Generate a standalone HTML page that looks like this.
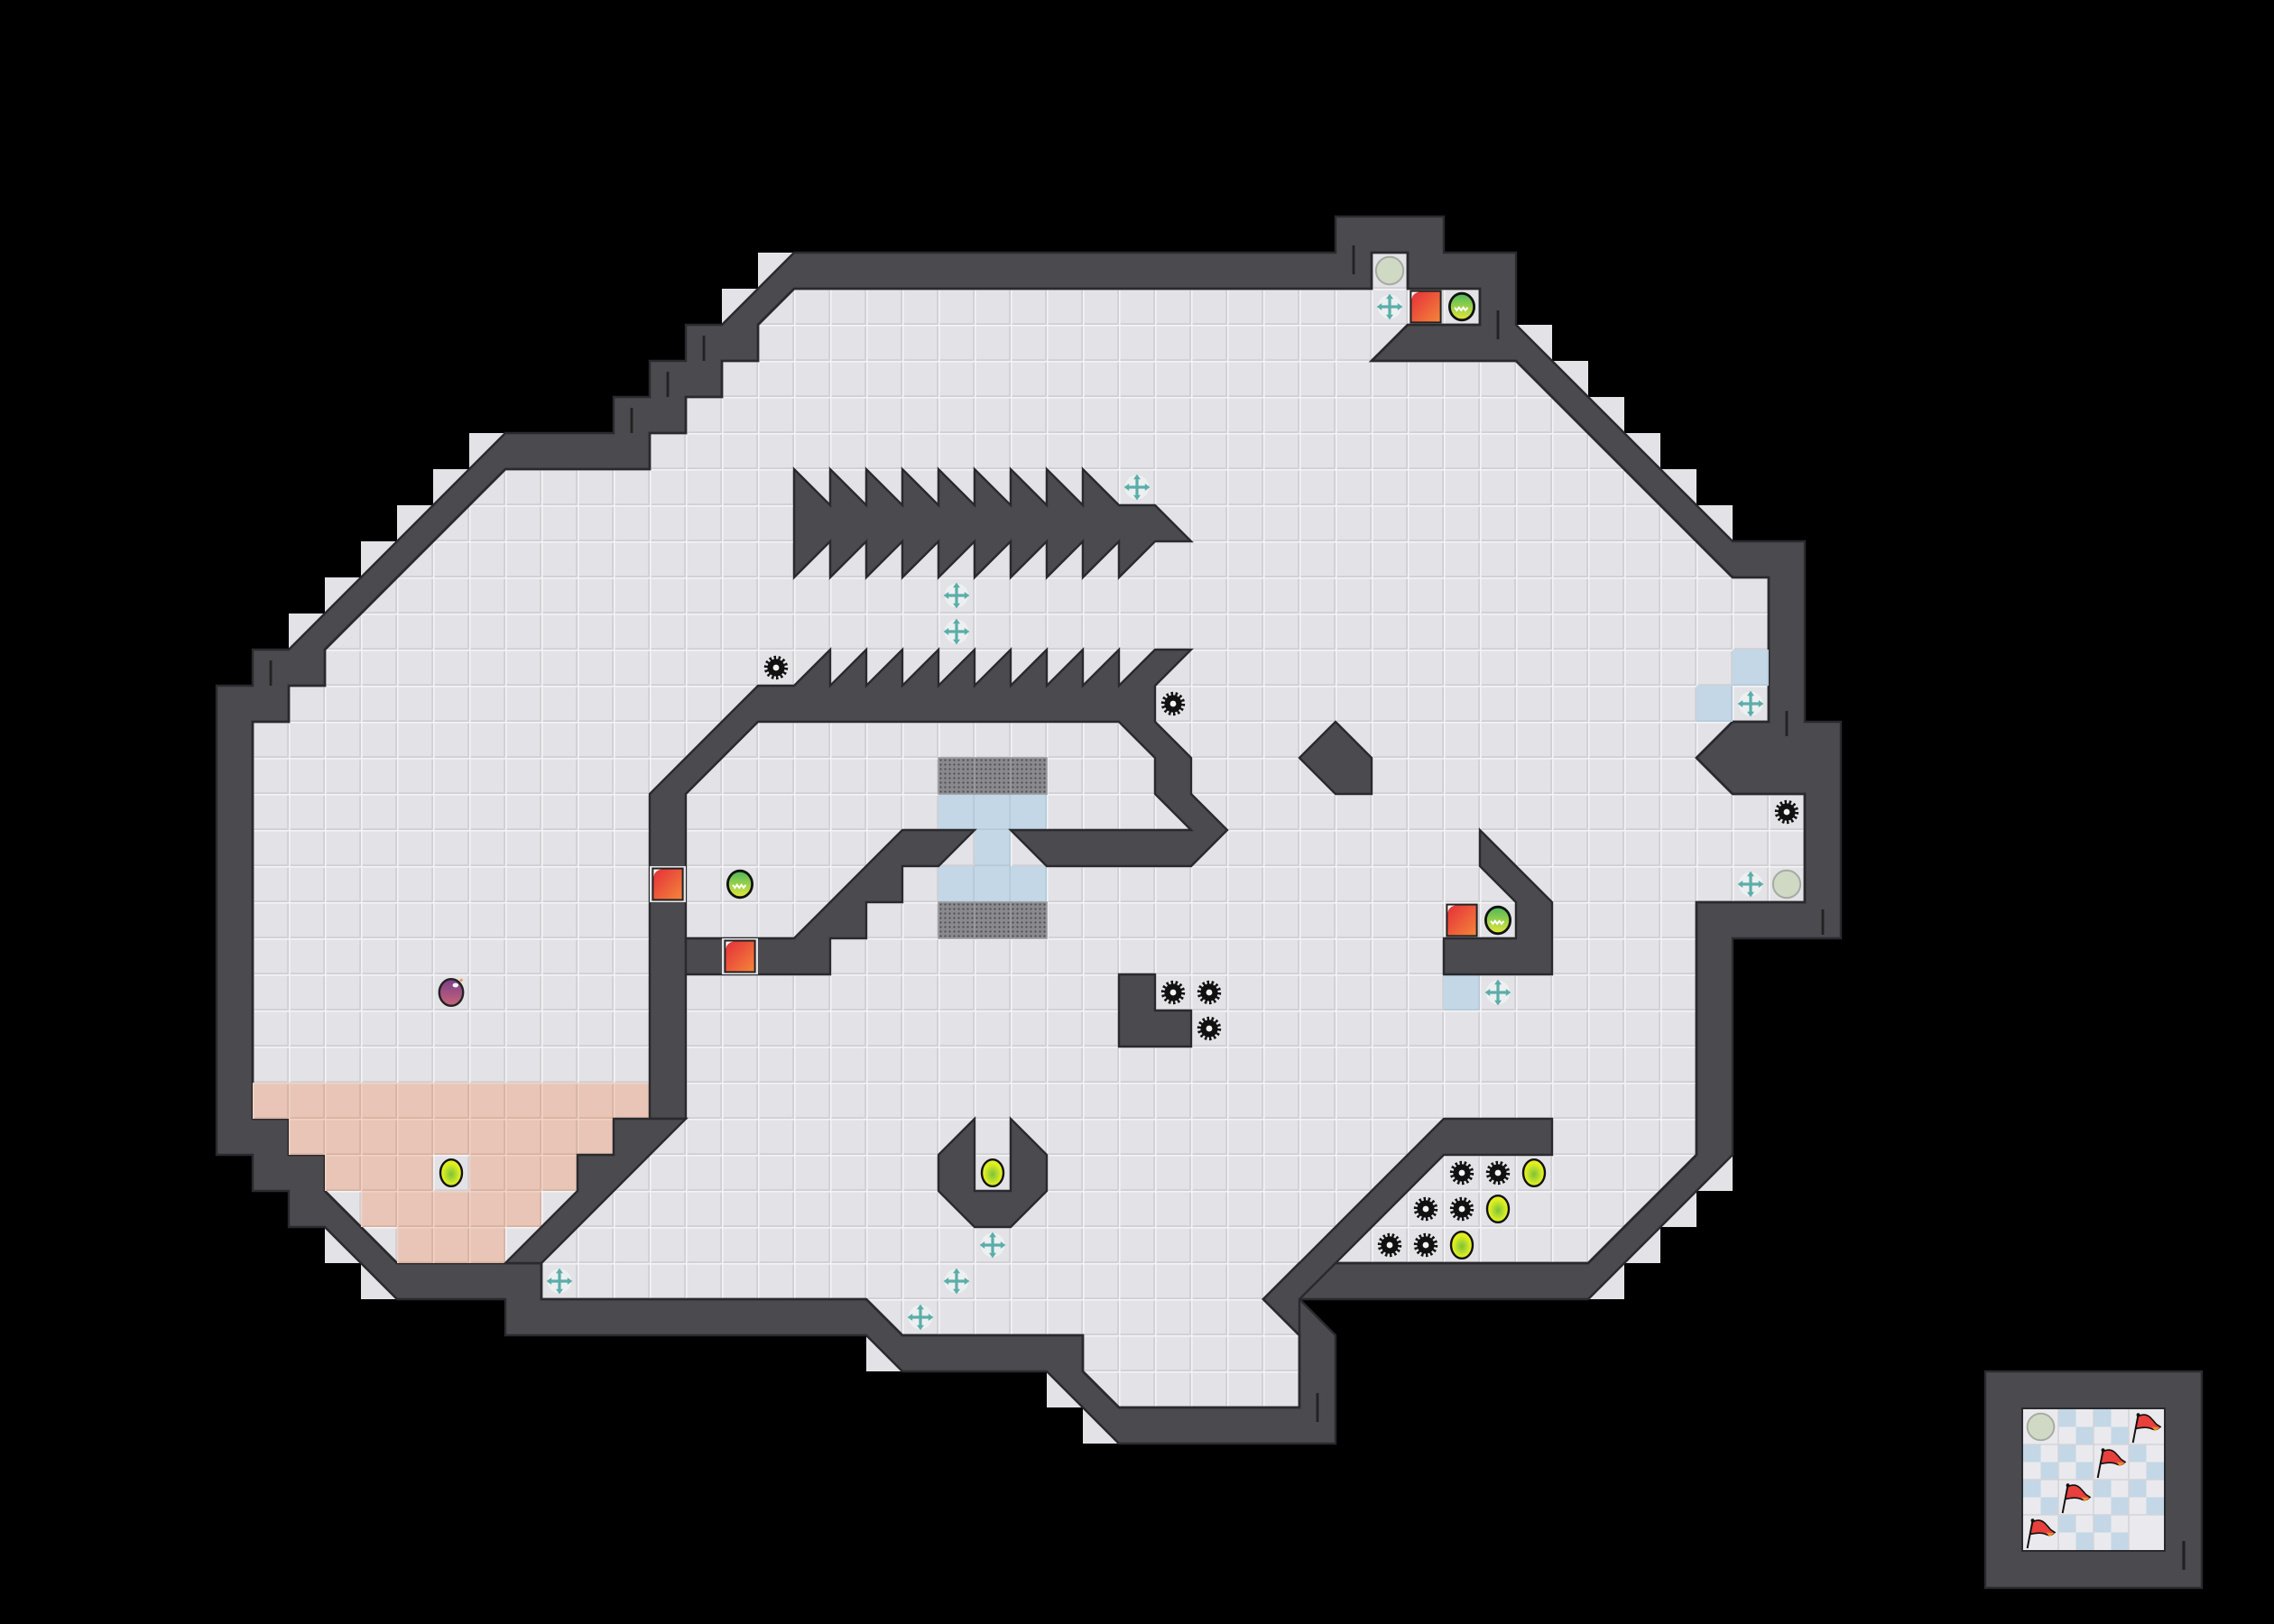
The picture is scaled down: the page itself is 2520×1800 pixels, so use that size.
<!DOCTYPE html>
<html><head><meta charset="utf-8"><style>
html,body{margin:0;padding:0;background:#000;}
svg{display:block;}
</style></head><body>
<svg width="2520" height="1800" viewBox="0 0 63 45" xmlns="http://www.w3.org/2000/svg">
<defs>
<pattern id="fl" patternUnits="userSpaceOnUse" x="0" y="0" width="1" height="1">
<rect width="1" height="1" fill="#e3e3e7"/>
<path d="M0,0.98H1M0.98,0V1" stroke="#cfcfd4" stroke-width="0.05"/>
<path d="M0,0.02H1M0.02,0V1" stroke="#f3f3f5" stroke-width="0.04"/>
</pattern>
<pattern id="pe" patternUnits="userSpaceOnUse" x="0" y="0" width="1" height="1">
<rect width="1" height="1" fill="#e8c5b6"/>
<path d="M0,0.98H1M0.98,0V1" stroke="#d8b2a2" stroke-width="0.05"/>
<path d="M0,0.02H1M0.02,0V1" stroke="#f0d2c4" stroke-width="0.04"/>
</pattern>
<pattern id="bl" patternUnits="userSpaceOnUse" x="0" y="0" width="1" height="1">
<rect width="1" height="1" fill="#c3d7e6"/>
<path d="M0,0.98H1M0.98,0V1" stroke="#b4c9d9" stroke-width="0.04"/>
</pattern>
<pattern id="gr" patternUnits="userSpaceOnUse" x="0" y="0" width="0.125" height="0.125">
<rect width="0.125" height="0.125" fill="#8a8a8e"/>
<circle cx="0.0625" cy="0.0625" r="0.028" fill="#4e4e52"/>
</pattern>
<linearGradient id="rg" x1="0" y1="0" x2="1" y2="1"><stop offset="0" stop-color="#e5303a"/><stop offset="1" stop-color="#f4843a"/></linearGradient>
<linearGradient id="gg" x1="0" y1="0" x2="0" y2="1"><stop offset="0" stop-color="#4cb85a"/><stop offset="1" stop-color="#e4e83a"/></linearGradient>
<radialGradient id="yg" cx="0.5" cy="0.55" r="0.55"><stop offset="0" stop-color="#7cc23a"/><stop offset="0.7" stop-color="#dcee22"/><stop offset="1" stop-color="#eef21e"/></radialGradient>
<linearGradient id="pg" x1="0" y1="0" x2="0" y2="1"><stop offset="0" stop-color="#7a3f8a"/><stop offset="1" stop-color="#c96478"/></linearGradient>
<g id="gear"><circle cx="0.5" cy="0.5" r="0.24" fill="#111"/><circle cx="0.5" cy="0.5" r="0.28" fill="none" stroke="#111" stroke-width="0.1" stroke-dasharray="0.062 0.063"/><circle cx="0.5" cy="0.5" r="0.085" fill="#f4f4f4"/></g>
<g id="cross"><circle cx="0.5" cy="0.5" r="0.33" fill="#edf0f0"/><path d="M0.5,0.26V0.74M0.26,0.5H0.74" stroke="#5cadaa" stroke-width="0.08"/><path d="M0.5,0.14L0.4,0.28H0.6ZM0.5,0.86L0.4,0.72H0.6ZM0.14,0.5L0.28,0.4V0.6ZM0.86,0.5L0.72,0.4V0.6Z" fill="#5cadaa"/></g>
<g id="red"><rect x="0.06" y="0.04" width="0.88" height="0.92" fill="#222"/><rect x="0.11" y="0.09" width="0.78" height="0.82" fill="url(#rg)"/><path d="M0.11,0.09H0.32Q0.13,0.12 0.11,0.3Z" fill="#fff"/></g>
<g id="green"><ellipse cx="0.5" cy="0.5" rx="0.34" ry="0.37" fill="url(#gg)" stroke="#111" stroke-width="0.07"/><path d="M0.3,0.52l0.06,0.08l0.06,-0.08l0.06,0.08l0.06,-0.08l0.06,0.08l0.06,-0.08" fill="none" stroke="#fff" stroke-width="0.05"/></g>
<g id="yel"><ellipse cx="0.5" cy="0.5" rx="0.3" ry="0.37" fill="url(#yg)" stroke="#111" stroke-width="0.06"/></g>
<g id="gray"><circle cx="0.5" cy="0.5" r="0.38" fill="#cfd9c4" stroke="#a6aba2" stroke-width="0.05"/></g>
<g id="flag"><path d="M0.12,0.95L0.27,0.16" stroke="#111" stroke-width="0.05"/><circle cx="0.27" cy="0.16" r="0.05" fill="#111"/><path d="M0.27,0.2Q0.45,0.1 0.6,0.22Q0.7,0.32 0.78,0.42L0.9,0.5Q0.78,0.62 0.66,0.56Q0.5,0.48 0.2,0.55Z" fill="#e8403c" stroke="#111" stroke-width="0.04"/><path d="M0.66,0.5L0.9,0.52L0.74,0.62Z" fill="#f08a2a"/></g>
</defs>
<rect width="63" height="45" fill="#000"/>
<!-- stair light cells -->
<polygon fill="#e3e3e7" points="22,7 37,7 37,6 40,6 40,7 42,7 42,9 43,9 43,10 44,10 44,11 45,11 45,12 46,12 46,13 47,13 47,14 48,14 48,15 50,15 50,20 51,20 51,26 48,26 48,33 47,33 47,34 46,34 46,35 45,35 45,36 36,36 36,37 37,37 37,40 30,40 30,39 29,39 29,38 24,38 24,37 14,37 14,36 10,36 10,35 9,35 9,34 8,34 8,33 7,33 7,32 6,32 6,19 7,19 7,18 8,18 8,17 9,17 9,16 10,16 10,15 11,15 11,14 12,14 12,13 13,13 13,12 17,12 17,11 18,11 18,10 19,10 19,9 20,9 20,8 21,8 21,7"/>
<!-- outer wall -->
<polygon fill="#4a4a4f" stroke="#2a2a2e" stroke-width="0.06" stroke-linejoin="miter" points="22,7 37,7 37,6 40,6 40,7 42,7 42,9 48,15 50,15 50,20 51,20 51,26 48,26 48,32 44,36 36,36 37,37 37,40 31,40 29,38 25,38 24,37 14,37 14,36 11,36 9,34 8,34 8,33 7,33 7,32 6,32 6,19 7,19 7,18 8,18 14,12 17,12 17,11 18,11 18,10 19,10 19,9 20,9"/>
<!-- floor -->
<polygon fill="url(#fl)" stroke="#2a2a2e" stroke-width="0.07" points="22,8 38,8 38,7 39,7 39,8 41,8 41,9 39,9 38,10 42,10 48,16 49,16 49,20 48,20 47,21 48,22 50,22 50,25 47,25 47,32 44,35 36,35 35,36 36,37 36,39 31,39 30,38 30,37 25,37 24,36 15,36 15,35 11,35 9,33 9,32 8,32 8,31 7,31 7,20 8,20 8,19 9,19 9,18 14,13 18,13 18,12 19,12 19,11 20,11 20,10 21,10 21,9"/>
<!-- peach -->
<g fill="url(#pe)">
<rect x="7" y="30" width="11" height="1"/>
<rect x="8" y="31" width="9" height="1"/>
<rect x="9" y="32" width="3" height="1"/><rect x="13" y="32" width="3" height="1"/>
<rect x="10" y="33" width="5" height="1"/>
<rect x="11" y="34" width="3" height="1"/>
</g>
<!-- blue / grates -->
<g fill="url(#bl)">
<rect x="48" y="18" width="1" height="1"/><rect x="47" y="19" width="1" height="1"/><rect x="40" y="27" width="1" height="1"/>
<rect x="26" y="22" width="3" height="1"/><rect x="27" y="23" width="1" height="1"/><rect x="26" y="24" width="3" height="1"/>
</g>
<g fill="url(#gr)" stroke="#9a9a9e" stroke-width="0.04">
<rect x="26" y="21" width="1" height="1"/><rect x="27" y="21" width="1" height="1"/><rect x="28" y="21" width="1" height="1"/>
<rect x="26" y="25" width="1" height="1"/><rect x="27" y="25" width="1" height="1"/><rect x="28" y="25" width="1" height="1"/>
</g>
<!-- interior walls -->
<g fill="#4a4a4f" stroke="#2a2a2e" stroke-width="0.06" stroke-linejoin="miter">
<polygon points="22,13 23,14 23,13 24,14 24,13 25,14 25,13 26,14 26,13 27,14 27,13 28,14 28,13 29,14 29,13 30,14 30,13 31,14 32,14 33,15 32,15 31,16 31,15 30,16 30,15 29,16 29,15 28,16 28,15 27,16 27,15 26,16 26,15 25,16 25,15 24,16 24,15 23,16 23,15 22,16"/>
<polygon points="18,31 18,22 21,19 22,19 23,18 23,19 24,18 24,19 25,18 25,19 26,18 26,19 27,18 27,19 28,18 28,19 29,18 29,19 30,18 30,19 31,18 31,19 32,18 33,18 32,19 32,20 33,21 33,22 34,23 33,24 29,24 28,23 33,23 32,22 32,21 31,20 21,20 19,22 19,31"/>
<polygon points="19,26 22,26 25,23 27,23 26,24 25,24 25,25 24,25 24,26 23,26 23,27 19,27"/>
<polygon points="18,31 19,31 15,35 14,35 16,33 16,32 17,32 17,31"/>
<polygon points="35,36 40,31 43,31 43,32 40,32 36,36 36,37"/>
<polygon points="36,21 37,20 38,21 38,22 37,22"/>
<polygon points="41,23 43,25 43,27 40,27 40,26 42,26 42,25 41,24"/>
<polygon points="31,27 32,27 32,28 33,28 33,29 31,29"/>
<polygon points="27,31 26,32 26,33 27,34 28,34 29,33 29,32 28,31 28,33 27,33"/>
</g>
<!-- wall marks -->
<g stroke="#222" stroke-width="0.07">
<path d="M37.5,6.8V7.6M41.5,8.6V9.4M49.5,19.7V20.4M50.5,25.2V25.9M36.5,38.6V39.4M19.5,9.3V10M18.5,10.3V11M17.5,11.3V12M7.5,18.3V19M46.4,8.6"/>
</g>
<!-- wall-slot floor + red blocks -->
<rect x="18" y="24" width="1" height="1" fill="#e3e3e7"/>
<rect x="20" y="26" width="1" height="1" fill="#e3e3e7"/>
<use href="#red" x="18" y="24"/><use href="#red" x="20" y="26"/><use href="#red" x="39" y="8"/><use href="#red" x="40" y="25"/>
<use href="#green" x="40" y="8"/><use href="#green" x="20" y="24"/><use href="#green" x="41" y="25"/>
<use href="#gray" x="38" y="7"/><use href="#gray" x="49" y="24"/>
<use href="#cross" x="38" y="8"/><use href="#cross" x="31" y="13"/><use href="#cross" x="26" y="16"/><use href="#cross" x="26" y="17"/><use href="#cross" x="48" y="19"/><use href="#cross" x="48" y="24"/><use href="#cross" x="41" y="27"/><use href="#cross" x="15" y="35"/><use href="#cross" x="27" y="34"/><use href="#cross" x="26" y="35"/><use href="#cross" x="25" y="36"/>
<use href="#gear" x="21" y="18"/><use href="#gear" x="32" y="19"/><use href="#gear" x="49" y="22"/><use href="#gear" x="32" y="27"/><use href="#gear" x="33" y="27"/><use href="#gear" x="33" y="28"/><use href="#gear" x="40" y="32"/><use href="#gear" x="41" y="32"/><use href="#gear" x="39" y="33"/><use href="#gear" x="40" y="33"/><use href="#gear" x="38" y="34"/><use href="#gear" x="39" y="34"/>
<use href="#yel" x="12" y="32"/><use href="#yel" x="27" y="32"/><use href="#yel" x="42" y="32"/><use href="#yel" x="41" y="33"/><use href="#yel" x="40" y="34"/>
<g transform="translate(12,27)"><ellipse cx="0.5" cy="0.5" rx="0.33" ry="0.37" fill="url(#pg)" stroke="#222" stroke-width="0.06"/><ellipse cx="0.62" cy="0.3" rx="0.08" ry="0.06" fill="#fff"/><circle cx="0.78" cy="0.16" r="0.04" fill="#f0a040"/></g>
<!-- minimap -->
<rect x="55" y="38" width="6" height="6" fill="#4a4a4f" stroke="#2a2a2e" stroke-width="0.06"/>
<rect x="56" y="39" width="4" height="4" fill="#2a2a2e"/>
<g transform="translate(56.05,39.05) scale(0.975)">
<rect width="4" height="4" fill="#eaeaee"/>
<g fill="#c3d7e6">
<rect x="1" y="0" width="0.5" height="0.5"/><rect x="1.5" y="0.5" width="0.5" height="0.5"/>
<rect x="2" y="0" width="0.5" height="0.5"/><rect x="2.5" y="0.5" width="0.5" height="0.5"/>
<rect x="0" y="1" width="0.5" height="0.5"/><rect x="0.5" y="1.5" width="0.5" height="0.5"/>
<rect x="1" y="1" width="0.5" height="0.5"/><rect x="1.5" y="1.5" width="0.5" height="0.5"/>
<rect x="3" y="1" width="0.5" height="0.5"/><rect x="3.5" y="1.5" width="0.5" height="0.5"/>
<rect x="0" y="2" width="0.5" height="0.5"/><rect x="0.5" y="2.5" width="0.5" height="0.5"/>
<rect x="2" y="2" width="0.5" height="0.5"/><rect x="2.5" y="2.5" width="0.5" height="0.5"/>
<rect x="3" y="2" width="0.5" height="0.5"/><rect x="3.5" y="2.5" width="0.5" height="0.5"/>
<rect x="1" y="3" width="0.5" height="0.5"/><rect x="1.5" y="3.5" width="0.5" height="0.5"/>
<rect x="2" y="3" width="0.5" height="0.5"/><rect x="2.5" y="3.5" width="0.5" height="0.5"/>
</g>
<path d="M0,1H4M0,2H4M0,3H4M1,0V4M2,0V4M3,0V4" stroke="#d4d4d8" stroke-width="0.04"/>
<use href="#gray" x="0" y="0"/>
<use href="#flag" x="3" y="0"/><use href="#flag" x="2" y="1"/><use href="#flag" x="1" y="2"/><use href="#flag" x="0" y="3"/>
</g>
<path d="M60.5,42.7V43.5" stroke="#222" stroke-width="0.08"/>
</svg>
</body></html>
